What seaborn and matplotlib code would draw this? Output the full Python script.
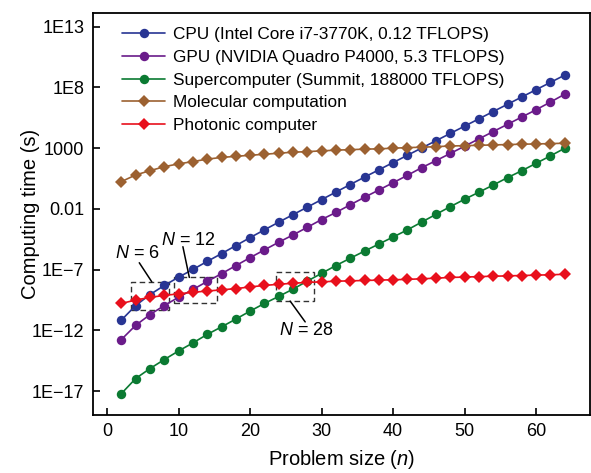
import numpy as np
import pandas as pd
import seaborn as sns
import matplotlib
matplotlib.use("Agg")
import matplotlib.pyplot as plt
from matplotlib.patches import Rectangle
from matplotlib.ticker import FixedLocator, FixedFormatter, NullLocator

# Problem sizes
n = list(range(2, 66, 2))

# log10 of computing time (s)
cpu_log = [-11.15, -9.95, -9.05, -8.30, -7.62, -6.98, -6.32, -5.68, -5.02, -4.36,
           -3.72, -3.09, -2.47, -1.85, -1.23, -0.61, 0.01, 0.62, 1.22, 1.82,
           2.42, 3.02, 3.62, 4.22, 4.82, 5.42, 6.02, 6.62, 7.22, 7.82, 8.42, 9.02]
gpu_log = [-12.75, -11.58, -10.70, -9.95, -9.27, -8.63, -7.97, -7.33, -6.67, -6.01,
           -5.37, -4.74, -4.14, -3.51, -2.87, -2.29, -1.66, -1.04, -0.44, 0.16,
           0.77, 1.40, 1.98, 2.57, 3.17, 3.77, 4.37, 4.97, 5.57, 6.17, 6.80, 7.45]
super_log = [-17.20, -15.96, -15.14, -14.40, -13.69, -13.03, -12.33, -11.71, -11.07, -10.41,
             -9.78, -9.20, -8.60, -7.94, -7.30, -6.66, -6.06, -5.47, -4.89, -4.31,
             -3.72, -3.08, -2.44, -1.81, -1.20, -0.62, -0.03, 0.58, 1.15, 1.76, 2.37, 3.00]
mol_log = [0.25, 0.80, 1.15, 1.48, 1.71, 1.90, 2.10, 2.24, 2.33, 2.42,
           2.50, 2.59, 2.67, 2.72, 2.78, 2.84, 2.88, 2.92, 2.95, 3.00,
           3.05, 3.08, 3.13, 3.18, 3.21, 3.24, 3.27, 3.30, 3.33, 3.35, 3.38, 3.41]
photon_log = [-9.78, -9.50, -9.28, -9.12, -8.99, -8.86, -8.76, -8.66, -8.56, -8.42,
              -8.30, -8.20, -8.12, -8.05, -8.00, -7.95, -7.92, -7.89, -7.86, -7.83,
              -7.80, -7.75, -7.70, -7.64, -7.61, -7.57, -7.54, -7.51, -7.48, -7.45, -7.42, -7.38]

labels = ["CPU (Intel Core i7-3770K, 0.12 TFLOPS)",
          "GPU (NVIDIA Quadro P4000, 5.3 TFLOPS)",
          "Supercomputer (Summit, 188000 TFLOPS)",
          "Molecular computation",
          "Photonic computer"]
colors = ["#283593", "#6a1b8a", "#0b7a32", "#9c6131", "#e8101c"]
markers = ["o", "o", "o", "D", "D"]

ytick_vals = [1e13, 1e8, 1e3, 1e-2, 1e-7, 1e-12, 1e-17]
ytick_labels = ["1E13", "1E8", "1000", "0.01", "1E\u22127", "1E\u221212", "1E\u221217"]

sns.set_style("ticks")
plt.rcParams["font.family"] = ["Liberation Sans", "DejaVu Sans"]
plt.rcParams["mathtext.fontset"] = "custom"
plt.rcParams["mathtext.rm"] = "Liberation Sans"
plt.rcParams["mathtext.it"] = "Liberation Sans:italic"
for key in ["text.color", "axes.labelcolor", "xtick.color", "ytick.color", "axes.edgecolor"]:
    plt.rcParams[key] = "black"

fig = plt.figure(figsize=(5.91, 4.73), dpi=100)
ax = fig.add_axes([0.157, 0.123, 0.841, 0.850])

for vals, lab, col, mk in zip([cpu_log, gpu_log, super_log, mol_log, photon_log],
                              labels, colors, markers):
    df = pd.DataFrame({"n": n, "t": np.power(10.0, vals)})
    sns.lineplot(data=df, x="n", y="t", ax=ax, color=col, marker=mk,
                 markersize=6.8 if mk == "o" else 6.0, markeredgewidth=0,
                 linewidth=1.2, label=lab)

ax.set_yscale("log")
ax.set_xlim(-2, 67.5)
ax.set_ylim(10 ** -18.95, 10 ** 14.15)
ax.set_xticks([0, 10, 20, 30, 40, 50, 60])
ax.yaxis.set_major_locator(FixedLocator(ytick_vals))
ax.yaxis.set_major_formatter(FixedFormatter(ytick_labels))
ax.yaxis.set_minor_locator(NullLocator())
ax.tick_params(direction="in", length=5, width=1.2, labelsize=13, pad=6)
for s in ax.spines.values():
    s.set_linewidth(1.3)

ax.set_xlabel("Problem size ($\\mathit{n}$)", fontsize=14.5)
ax.set_ylabel("Computing time (s)", fontsize=14.5)
ax.xaxis.set_label_coords(0.5, -0.083)
ax.yaxis.set_label_coords(-0.106, 0.5)

# dashed boxes marking crossing points
boxes = [(3.3, 8.6, -10.33, -8.0), (9.4, 15.4, -9.78, -7.64), (23.6, 29.0, -9.59, -7.17)]
for x0, x1, y0, y1 in boxes:
    ax.add_patch(Rectangle((x0, 10 ** y0), x1 - x0, 10 ** y1 - 10 ** y0, fill=False,
                           edgecolor="#333333", linestyle=(0, (4, 2.5)), linewidth=1.0))

leaders = [((4.5, -6.43), (6.25, -8.0)), ((10.6, -5.11), (11.5, -7.64)),
           ((25.6, -9.59), (27.7, -11.3))]
for (xa, ya), (xb, yb) in leaders:
    ax.plot([xa, xb], [10 ** ya, 10 ** yb], color="black", linewidth=1.1)

ax.text(4.3, 10 ** -5.63, "$N$ = 6", fontsize=13, ha="center", va="center")
ax.text(11.3, 10 ** -4.56, "$N$ = 12", fontsize=13, ha="center", va="center")
ax.text(27.8, 10 ** -11.98, "$N$ = 28", fontsize=13, ha="center", va="center")

ax.legend(loc="upper left", frameon=False, fontsize=12.4, handlelength=2.5,
          handletextpad=0.45, labelspacing=0.44, borderaxespad=0.45,
          bbox_to_anchor=(0.03, 1.0))

fig.savefig("out.png", dpi=100)
